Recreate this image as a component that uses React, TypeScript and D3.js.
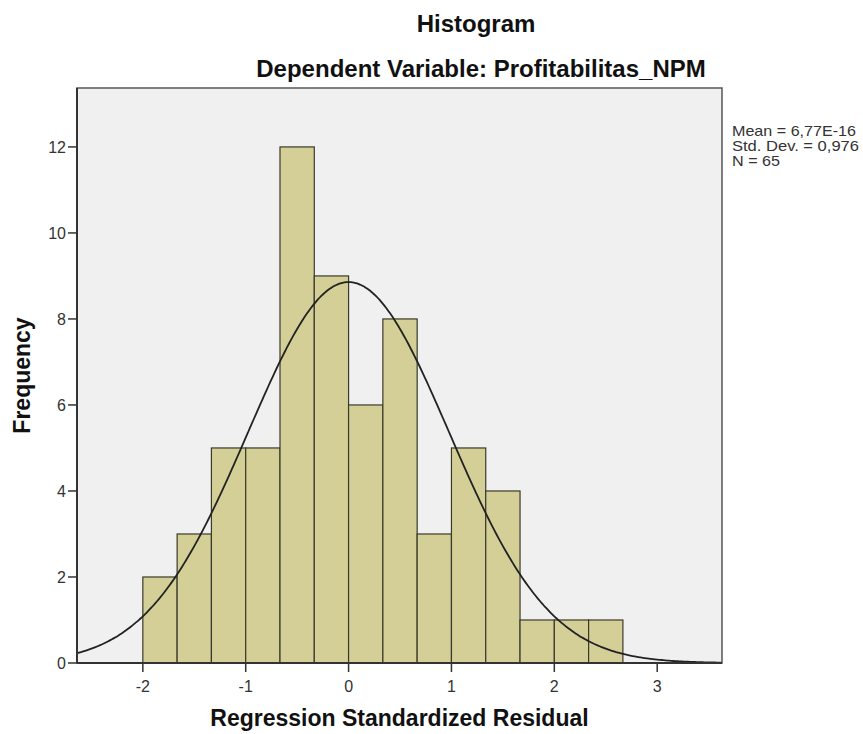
import * as d3 from "d3";

// histogram bins (regression standardized residual), bin width 1/3
const binStart = -2;
const binWidth = 1 / 3;
const counts = [2, 3, 5, 5, 12, 9, 6, 8, 3, 5, 4, 1, 1, 1];

const xTicks = [-2, -1, 0, 1, 2, 3];
const yTicks = [0, 2, 4, 6, 8, 10, 12];

const meanVal = 6.77e-16;
const sdVal = 0.976;
const nVal = 65;
const statLines = ["Mean = 6,77E-16", "Std. Dev. = 0,976", "N = 65"];
const statWidths = [124, 127, 48];

export default function App() {
  const width = 863;
  const height = 734;
  const marginLeft = 77;
  const marginRight = 141;
  const marginTop = 88;
  const marginBottom = 71;
  const font = "'Liberation Sans', Arial, sans-serif";

  const x = d3.scaleLinear()
    .domain([-2.64, 3.63])
    .range([marginLeft, width - marginRight]);

  const y = d3.scaleLinear()
    .domain([0, 13.37])
    .range([height - marginBottom, marginTop]);

  const bins = counts.map((c, i) => ({
    x0: binStart + i * binWidth,
    x1: binStart + (i + 1) * binWidth,
    c,
  }));

  // fitted normal curve, as SPSS draws it
  const curvePts = d3.range(-2.64, 3.631, 0.02).map(v => {
    const pdf = Math.exp(-0.5 * ((v - meanVal) / sdVal) ** 2) / (sdVal * Math.sqrt(2 * Math.PI));
    return [v, nVal * binWidth * pdf] as [number, number];
  });
  const line = d3.line<[number, number]>()
    .x(d => x(d[0]))
    .y(d => y(d[1]))
    .curve(d3.curveBasis);

  const plotL = x.range()[0];
  const plotR = x.range()[1];
  const plotB = y.range()[0];
  const plotT = y.range()[1];

  return (
    <svg width={width} height={height} style={{ position: "absolute", left: 0, top: 0, background: "#fff" }} fontFamily={font}>
      <text x={476} y={32} textAnchor="middle" fontSize={24} fontWeight="bold" fill="#111">Histogram</text>
      <text x={481} y={77} textAnchor="middle" fontSize={24} fontWeight="bold" fill="#111">Dependent Variable: Profitabilitas_NPM</text>

      <rect x={plotL} y={plotT} width={plotR - plotL} height={plotB - plotT} fill="#f0f0f0" stroke="#555" strokeWidth={1.5} />

      <g>
        {bins.map((b, i) => (
          <rect key={i} x={x(b.x0)} y={y(b.c)} width={x(b.x1) - x(b.x0)} height={y(0) - y(b.c)}
            fill="#d3cf97" stroke="#3a3a2a" strokeWidth={1.2} />
        ))}
      </g>

      <path d={line(curvePts) || ""} fill="none" stroke="#222" strokeWidth={1.8} />

      <line x1={plotL} x2={plotR} y1={plotB} y2={plotB} stroke="#333" strokeWidth={2} />
      <line x1={plotL} x2={plotL} y1={plotT} y2={plotB} stroke="#333" strokeWidth={2} />

      <g fontSize={16} fill="#333">
        {yTicks.map(t => (
          <g key={t}>
            <line x1={plotL - 9} x2={plotL} y1={y(t)} y2={y(t)} stroke="#333" strokeWidth={1.5} />
            <text x={plotL - 11} y={y(t)} dy="0.36em" textAnchor="end">{t}</text>
          </g>
        ))}
        {xTicks.map(t => (
          <g key={t}>
            <line x1={x(t)} x2={x(t)} y1={plotB} y2={plotB + 9} stroke="#333" strokeWidth={1.5} />
            <text x={x(t)} y={plotB + 29} textAnchor="middle">{t}</text>
          </g>
        ))}
      </g>

      <text x={(plotL + plotR) / 2} y={726} textAnchor="middle" fontSize={23} fontWeight="bold" fill="#111">Regression Standardized Residual</text>
      <text transform={`translate(30,${(plotT + plotB) / 2}) rotate(-90)`} textAnchor="middle" fontSize={23} fontWeight="bold" fill="#111">Frequency</text>

      <g fontSize={14.5} fill="#333">
        {statLines.map((s, i) => (
          <text key={i} x={732} y={136 + i * 15} textLength={statWidths[i]} lengthAdjust="spacingAndGlyphs">{s}</text>
        ))}
      </g>
    </svg>
  );
}
